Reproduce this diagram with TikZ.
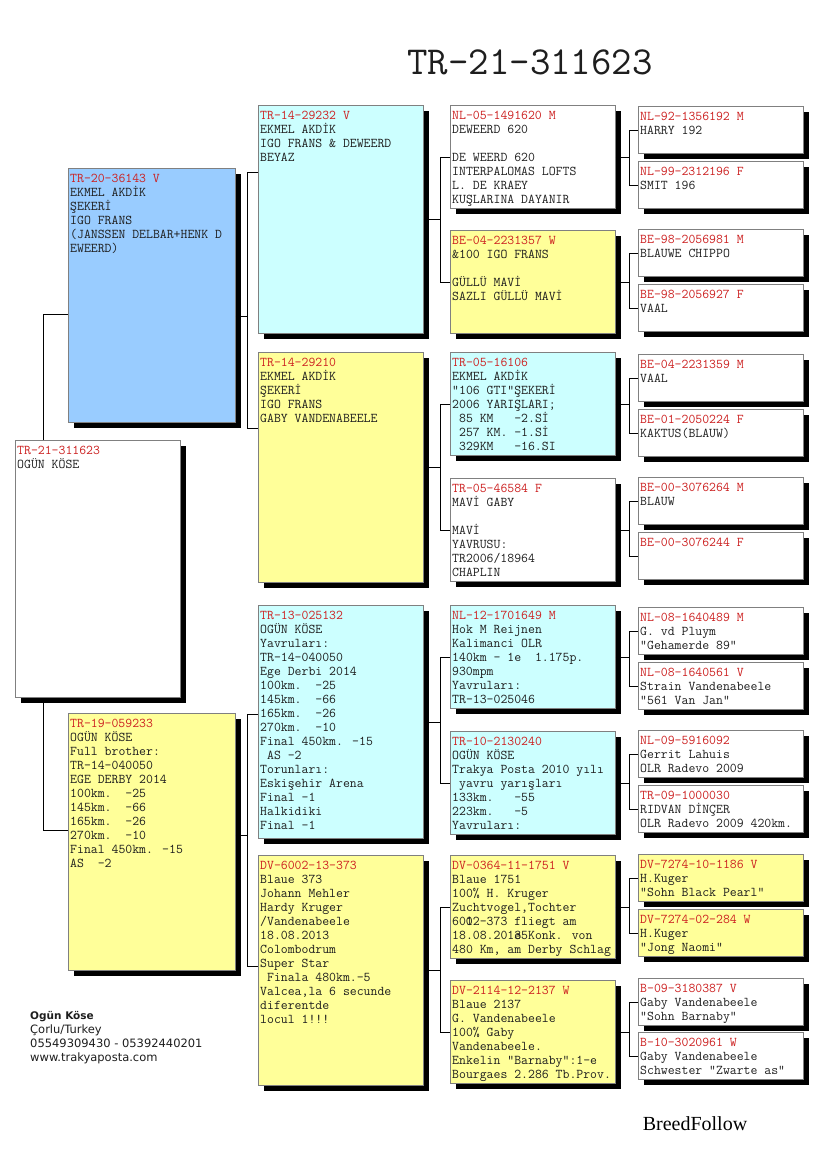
\documentclass[tikz,border=0pt]{standalone}
\usepackage{fontspec}
\usetikzlibrary{shadows}
\newfontfamily\footfont{DejaVu Sans}
\newfontfamily\brandfont{Liberation Serif}
\definecolor{boxBlue}{HTML}{99CCFF}
\definecolor{boxCyan}{HTML}{CCFFFF}
\definecolor{boxYellow}{HTML}{FFFF99}
\definecolor{boxLine}{HTML}{808080}
\definecolor{ringRed}{HTML}{CC2020}
\definecolor{txtDark}{HTML}{1E1E1E}
\tikzset{
  pbox/.style={draw=boxLine,line width=0.9pt,anchor=north west,inner sep=0pt,
    drop shadow={shadow xshift=6pt,shadow yshift=-6pt,fill=black,opacity=1}},
  ptext/.style={anchor=north west,inner sep=0pt,align=left,text=txtDark,
    font=\ttfamily\fontsize{13.4}{14}\selectfont},
  plink/.style={draw=black,line width=0.9pt},
}
\newcommand{\ring}[1]{\textcolor{ringRed}{#1}}
\newcommand{\pedbox}[7]{%
  \node[pbox,fill=#6,minimum width=#4pt,minimum height=#5pt] (#1) at (#2,#3) {};
  \node[ptext] (#1t) at ([shift={(2pt,-6pt)}]#1.north west) {#7};}

\begin{document}
\begin{tikzpicture}[x=1pt,y=-1pt]
      \fill[white] (0,0) rectangle (825,1172);
      \node[font=\ttfamily\fontsize{39.7}{44}\selectfont,text=txtDark] (title) at (530,62) {TR-21-311623};
      \pedbox{g0}{15}{440}{165}{257}{white}{\ring{TR-21-311623}\\OGÜN KÖSE}
      \pedbox{g1a}{68}{168}{167}{254}{boxBlue}{\ring{TR-20-36143 V}\\EKMEL AKDİK\\ŞEKERİ\\IGO FRANS\\
        (JANSSEN DELBAR+HENK D\\EWEERD)}
      \pedbox{g1b}{68}{713}{167}{257}{boxYellow}{\ring{TR-19-059233}\\OGÜN KÖSE\\Full brother:\\TR-14-040050\\
        EGE DERBY 2014\\100km.~~-25\\145km.~~-66\\165km.~~-26\\270km.~~-10\\Final 450km. -15\\AS~~-2}
      \pedbox{g2a}{258}{105}{165}{228}{boxCyan}{\ring{TR-14-29232 V}\\EKMEL AKDİK\\IGO FRANS \& DEWEERD\\BEYAZ}
      \pedbox{g2b}{258}{352}{165}{230}{boxYellow}{\ring{TR-14-29210}\\EKMEL AKDİK\\ŞEKERİ\\IGO FRANS\\
        GABY VANDENABEELE}
      \pedbox{g2c}{258}{605}{165}{233}{boxCyan}{\ring{TR-13-025132}\\OGÜN KÖSE\\Yavruları:\\TR-14-040050\\
        Ege Derbi 2014\\100km.~~-25\\145km.~~-66\\165km.~~-26\\270km.~~-10\\Final 450km. -15\\~AS -2\\
        Torunları:\\Eskişehir Arena\\Final -1\\Halkidiki\\Final -1}
      \pedbox{g2d}{258}{855}{165}{230}{boxYellow}{\ring{DV-6002-13-373}\\Blaue 373\\Johann Mehler\\Hardy Kruger\\
        /Vandenabeele\\18.08.2013\\Colombodrum\\Super Star\\~Finala 480km.-5\\Valcea,la 6 secunde\\
        diferentde\\locul 1!!!}
      \pedbox{g3a}{450}{105}{165}{103}{white}{\ring{NL-05-1491620 M}\\DEWEERD 620\\[14pt]DE WEERD 620\\
        INTERPALOMAS LOFTS\\L. DE KRAEY\\KUŞLARINA DAYANIR}
      \pedbox{g3b}{450}{230}{165}{103}{boxYellow}{\ring{BE-04-2231357 W}\\\&100 IGO FRANS\\[14pt]GÜLLÜ MAVİ\\
        SAZLI GÜLLÜ MAVİ}
      \pedbox{g3c}{450}{352}{165}{103}{boxCyan}{\ring{TR-05-16106}\\EKMEL AKDİK\\"106 GTI"ŞEKERİ\\
        2006 YARIŞLARI;\\~85 KM~~~-2.Sİ\\~257 KM. -1.Sİ\\~329KM~~~-16.SI}
      \pedbox{g3d}{450}{478}{165}{103}{white}{\ring{TR-05-46584 F}\\MAVİ GABY\\[14pt]MAVİ\\YAVRUSU:\\
        TR2006/18964\\CHAPLIN}
      \pedbox{g3e}{450}{605}{165}{103}{boxCyan}{\ring{NL-12-1701649 M}\\Hok M Reijnen\\Kalimanci OLR\\
        140km - 1e~~1.175p.\\930mpm\\Yavruları:\\TR-13-025046}
      \pedbox{g3f}{450}{731}{165}{103}{boxCyan}{\ring{TR-10-2130240}\\OGÜN KÖSE\\Trakya Posta 2010 yılı\\
        ~yavru yarışları\\133km.~~~-55\\223km.~~~-5\\Yavruları:}
      \pedbox{g3g}{450}{855}{165}{103}{boxYellow}{\ring{DV-0364-11-1751 V}\\Blaue 1751\\100\% H. Kruger\\
        Zuchtvogel,Tochter\\60\rlap{0}12-373 fliegt am\\18.08.201\rlap{3}e5Konk. von\\480 Km, am Derby Schlag}
      \pedbox{g3h}{450}{980}{165}{103}{boxYellow}{\ring{DV-2114-12-2137 W}\\Blaue 2137\\G. Vandenabeele\\
        100\% Gaby\\Vandenabeele.\\Enkelin "Barnaby":1-e\\Bourgaes 2.286 Tb.Prov.}
      \pedbox{g4a}{638}{106}{165}{47}{white}{\ring{NL-92-1356192 M}\\HARRY 192}
      \pedbox{g4b}{638}{161}{165}{47}{white}{\ring{NL-99-2312196 F}\\SMIT 196}
      \pedbox{g4c}{638}{229}{165}{47}{white}{\ring{BE-98-2056981 M}\\BLAUWE CHIPPO}
      \pedbox{g4d}{638}{284}{165}{47}{white}{\ring{BE-98-2056927 F}\\VAAL}
      \pedbox{g4e}{638}{354}{165}{47}{white}{\ring{BE-04-2231359 M}\\VAAL}
      \pedbox{g4f}{638}{409}{165}{47}{white}{\ring{BE-01-2050224 F}\\KAKTUS(BLAUW)}
      \pedbox{g4g}{638}{477}{165}{47}{white}{\ring{BE-00-3076264 M}\\BLAUW}
      \pedbox{g4h}{638}{532}{165}{47}{white}{\ring{BE-00-3076244 F}}
      \pedbox{g4i}{638}{607}{165}{47}{white}{\ring{NL-08-1640489 M}\\G. vd Pluym\\"Gehamerde 89"}
      \pedbox{g4j}{638}{662}{165}{47}{white}{\ring{NL-08-1640561 V}\\Strain Vandenabeele\\"561 Van Jan"}
      \pedbox{g4k}{638}{730}{165}{47}{white}{\ring{NL-09-5916092}\\Gerrit Lahuis\\OLR Radevo 2009}
      \pedbox{g4l}{638}{785}{165}{47}{white}{\ring{TR-09-1000030}\\RIDVAN DİNÇER\\OLR Radevo 2009 420km.}
      \pedbox{g4m}{638}{854}{165}{47}{boxYellow}{\ring{DV-7274-10-1186 V}\\H.Kuger\\"Sohn Black Pearl"}
      \pedbox{g4n}{638}{909}{165}{47}{boxYellow}{\ring{DV-7274-02-284 W}\\H.Kuger\\"Jong Naomi"}
      \pedbox{g4o}{638}{978}{165}{47}{white}{\ring{B-09-3180387 V}\\Gaby Vandenabeele\\"Sohn Barnaby"}
      \pedbox{g4p}{638}{1032}{165}{47}{white}{\ring{B-10-3020961 W}\\Gaby Vandenabeele\\Schwester "Zwarte as"}
      \draw[plink] ([yshift=-146pt]g1a.north west) -| ([xshift=28pt]g0.north west);
      \draw[plink] ([yshift=-117pt]g1b.north west) -| ([xshift=28pt]g0.south west);
      \draw[plink] ([yshift=-148pt]g1a.north east) -- ++(12,0) coordinate (k1a);
      \draw[plink] ([yshift=-67pt]g2a.north west) -| (k1a) |- ([yshift=-76pt]g2b.north west);
      \draw[plink] ([yshift=-122pt]g1b.north east) -- ++(12,0) coordinate (k1b);
      \draw[plink] ([yshift=-109pt]g2c.north west) -| (k1b) |- ([yshift=-111pt]g2d.north west);
      \draw[plink] (g2a.east) -- ++(17,0) coordinate (k2a); \draw[plink] (g3a.west) -| (k2a) |- (g3b.west);
      \draw[plink] (g2b.east) -- ++(17,0) coordinate (k2b); \draw[plink] (g3c.west) -| (k2b) |- (g3d.west);
      \draw[plink] (g2c.east) -- ++(17,0) coordinate (k2c); \draw[plink] (g3e.west) -| (k2c) |- (g3f.west);
      \draw[plink] (g2d.east) -- ++(17,0) coordinate (k2d); \draw[plink] (g3g.west) -| (k2d) |- (g3h.west);
      \draw[plink] (g3a.east) -- ++(14,0) coordinate (k3a); \draw[plink] (g4a.west) -| (k3a) |- (g4b.west);
      \draw[plink] (g3b.east) -- ++(14,0) coordinate (k3b); \draw[plink] (g4c.west) -| (k3b) |- (g4d.west);
      \draw[plink] (g3c.east) -- ++(14,0) coordinate (k3c); \draw[plink] (g4e.west) -| (k3c) |- (g4f.west);
      \draw[plink] (g3d.east) -- ++(14,0) coordinate (k3d); \draw[plink] (g4g.west) -| (k3d) |- (g4h.west);
      \draw[plink] (g3e.east) -- ++(14,0) coordinate (k3e); \draw[plink] (g4i.west) -| (k3e) |- (g4j.west);
      \draw[plink] (g3f.east) -- ++(14,0) coordinate (k3f); \draw[plink] (g4k.west) -| (k3f) |- (g4l.west);
      \draw[plink] (g3g.east) -- ++(14,0) coordinate (k3g); \draw[plink] (g4m.west) -| (k3g) |- (g4n.west);
      \draw[plink] (g3h.east) -- ++(14,0) coordinate (k3h); \draw[plink] (g4o.west) -| (k3h) |- (g4p.west);
      \node[anchor=north west,inner sep=0pt,align=left,text=txtDark,font=\footfont\fontsize{11.5}{14}\selectfont]
        (contact) at (30,1011) {{\fontsize{10.5}{14}\selectfont\bfseries Ogün Köse}\\Çorlu/Turkey\\
        05549309430 - 05392440201\\www.trakyaposta.com};
      \node[font=\brandfont\fontsize{20}{24}\selectfont,text=black] (brand) at (695,1124) {BreedFollow};
\end{tikzpicture}
\end{document}
